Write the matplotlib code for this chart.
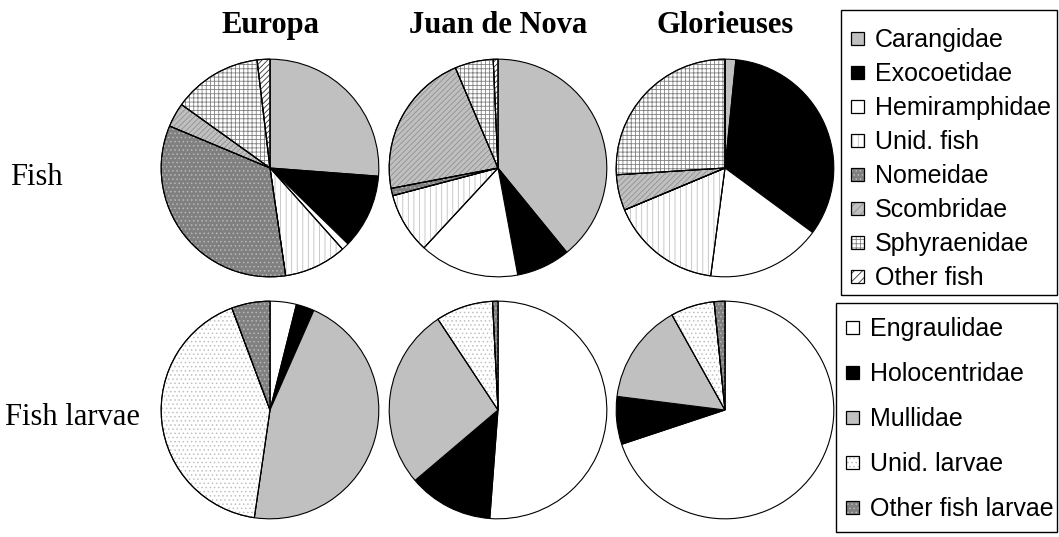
import matplotlib
matplotlib.use('Agg')
import matplotlib.pyplot as plt
from matplotlib.patches import Wedge, Rectangle, Patch
from matplotlib.legend_handler import HandlerBase

plt.rcParams['hatch.linewidth'] = 0.6

# Diet composition (% of items) per island
sites = ['Europa', 'Juan de Nova', 'Glorieuses']

fish_labels = ['Carangidae', 'Exocoetidae', 'Hemiramphidae', 'Unid. fish',
               'Nomeidae', 'Scombridae', 'Sphyraenidae', 'Other fish']
fish_europa = [26.2, 11.1, 1.1, 9.3, 33.6, 3.6, 13.2, 1.9]
fish_juan = [39.1, 8.0, 14.8, 9.0, 1.1, 21.6, 5.7, 0.7]
fish_glor = [1.6, 33.5, 17.0, 16.6, 0.0, 5.3, 26.0, 0.0]

larvae_labels = ['Engraulidae', 'Holocentridae', 'Mullidae', 'Unid. larvae',
                 'Other fish larvae']
larvae_europa = [3.9, 2.7, 45.7, 42.0, 5.7]
larvae_juan = [51.2, 12.6, 26.9, 8.5, 0.8]
larvae_glor = [69.9, 7.1, 14.9, 6.5, 1.6]

# (face colour, hatch, hatch colour) for each family
fish_styles = [
    ('#c0c0c0', None, None),
    ('black', None, None),
    ('white', None, None),
    ('white', '|||', '#c0c0c0'),
    ('#808080', '....', '#b8b8b8'),
    ('#c0c0c0', '//////', '#909090'),
    ('white', '++++', '#808080'),
    ('white', '//////', '#303030'),
]
larvae_styles = [
    ('white', None, None),
    ('black', None, None),
    ('#c0c0c0', None, None),
    ('white', '....', '#c0c0c0'),
    ('#808080', '....', '#b8b8b8'),
]

W, H = 1059, 537
fig = plt.figure(figsize=(W / 100, H / 100), dpi=100)
fig.patch.set_facecolor('white')

R = 111
col_x = [270, 498, 725]
row_y = [168, 410]


def px(x, y):
    # pixel position (from top-left) -> figure fraction
    return x / W, 1 - y / H


def draw_pie(cx, cy, values, styles):
    ax = fig.add_axes([(cx - R) / W, 1 - (cy + R) / H, 2 * R / W, 2 * R / H])
    wedges, _ = ax.pie(values, colors=[s[0] for s in styles], startangle=90,
                       counterclock=False, radius=1,
                       wedgeprops=dict(edgecolor='black', linewidth=0.8))
    for w, (fc, hatch, hc) in zip(wedges, styles):
        if hatch is None:
            continue
        ax.add_patch(Wedge(w.center, w.r, w.theta1, w.theta2, facecolor='none',
                           edgecolor=hc, linewidth=0, hatch=hatch, zorder=w.get_zorder() + 0.1))
        ax.add_patch(Wedge(w.center, w.r, w.theta1, w.theta2, facecolor='none',
                           edgecolor='black', linewidth=0.8, zorder=w.get_zorder() + 0.2))
    ax.set_xlim(-1.02, 1.02)
    ax.set_ylim(-1.02, 1.02)
    ax.set_aspect('equal')
    ax.axis('off')


for x, vals in zip(col_x, [fish_europa, fish_juan, fish_glor]):
    draw_pie(x, row_y[0], vals, fish_styles)
for x, vals in zip(col_x, [larvae_europa, larvae_juan, larvae_glor]):
    draw_pie(x, row_y[1], vals, larvae_styles)

serif = 'Liberation Serif'
for x, name in zip(col_x, sites):
    fig.text(*px(x, 33), name, ha='center', va='baseline',
             fontsize=22, fontweight='bold', family=serif)
fig.text(*px(10, 185), 'Fish', ha='left', va='baseline', fontsize=22, family=serif)
fig.text(*px(5, 425), 'Fish larvae', ha='left', va='baseline', fontsize=22, family=serif)


class HatchSquare(HandlerBase):
    def create_artists(self, legend, orig, xdescent, ydescent, width, height,
                       fontsize, trans):
        fc, hatch, hc = orig.style
        s = min(width, height)
        x0 = -xdescent + (width - s) / 2
        y0 = -ydescent + (height - s) / 2
        arts = [Rectangle((x0, y0), s, s, facecolor=fc, edgecolor='none', transform=trans)]
        if hatch:
            arts.append(Rectangle((x0, y0), s, s, facecolor='none', edgecolor=hc,
                                  linewidth=0, hatch=hatch.replace('//////', '////'),
                                  transform=trans))
        arts.append(Rectangle((x0, y0), s, s, facecolor='none', edgecolor='black',
                              linewidth=0.9, transform=trans))
        return arts


def make_handles(labels, styles):
    handles = []
    for lab, st in zip(labels, styles):
        p = Patch(label=lab)
        p.style = st
        handles.append(p)
    return handles


legend_kw = dict(frameon=False, borderpad=0, borderaxespad=0, handlelength=0.52,
                 handleheight=0.52, handletextpad=0.44, loc='upper left',
                 prop={'family': 'Liberation Sans', 'size': 18},
                 handler_map={Patch: HatchSquare()})

fig.legend(handles=make_handles(fish_labels, fish_styles),
           bbox_to_anchor=px(851, 28), labelspacing=0.40, **legend_kw)
fig.legend(handles=make_handles(larvae_labels, larvae_styles),
           bbox_to_anchor=px(846, 317), labelspacing=0.84, **legend_kw)

# legend frames
for x0, y0, x1, y1 in [(841, 10, 1057, 295), (836, 303, 1057, 532)]:
    fig.patches.append(Rectangle(px(x0, y1), (x1 - x0) / W, (y1 - y0) / H,
                                 transform=fig.transFigure, facecolor='none',
                                 edgecolor='black', linewidth=1.0))

fig.savefig('out.png', dpi=100)
